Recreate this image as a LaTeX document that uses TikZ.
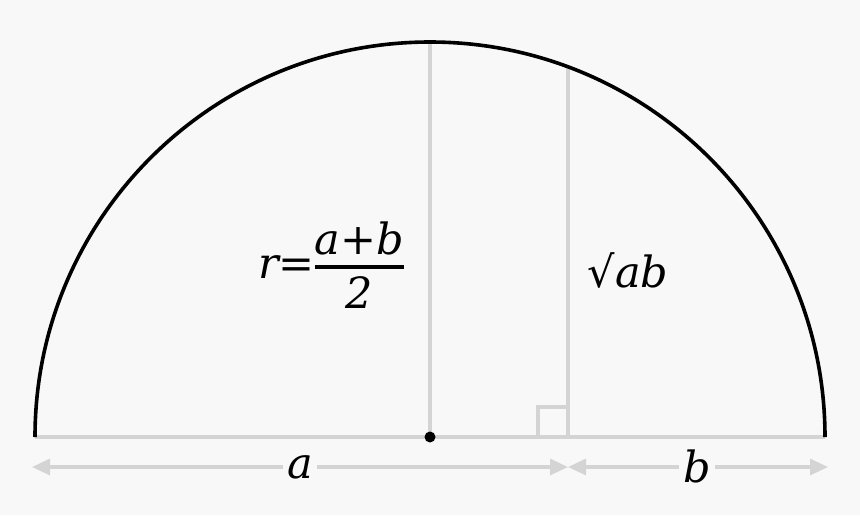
\documentclass[tikz,border=0pt]{standalone}
\usepackage{fontspec}
\setmainfont{DejaVu Serif}
\usetikzlibrary{arrows.meta}

\begin{document}
\begin{tikzpicture}[x=1pt,y=-1pt,
        arcLine/.style = {draw=black,line width=3.6pt},
        grayLine/.style = {draw=lineGray,line width=3.2pt},
        dimLine/.style = {draw=lineGray,line width=3.2pt,{Triangle[length=18pt,width=16pt]}-{Triangle[length=18pt,width=16pt]}},
        labelNode/.style = {font=\fontsize{43}{48}\selectfont\itshape,inner sep=6pt},
        dimLabel/.style = {labelNode,fill=bgGray,inner sep=4pt}
        ]
        \definecolor{bgGray}{HTML}{F8F8F8}
        \definecolor{lineGray}{HTML}{D4D4D4}
        \fill[bgGray] (0,0) rectangle (860,515);
        \useasboundingbox (0,0) rectangle (860,515);
        % points on the diameter
        \coordinate (left) at (35,437);
        \coordinate (right) at (825,437);
        \coordinate (centre) at (430,437);
        \coordinate (foot) at (568,437);
        \coordinate (top) at (430,42);
        \coordinate (meet) at (568,66.9);
        % right angle corner
        \coordinate (sqA) at (538,437);
        \coordinate (sqB) at (538,407);
        \coordinate (sqC) at (568,407);
        % ends of the dimension lines
        \coordinate (dimLeft) at (32,467);
        \coordinate (dimMid) at (568,467);
        \coordinate (dimRight) at (828,467);

        \draw[grayLine] (left) -- (right);
        \draw[grayLine] (centre) -- (top);
        \draw[grayLine] (foot) -- (meet);
        \draw[grayLine] (sqA) -- (sqB) -- (sqC);
        \draw[arcLine] (left) arc (180:360:395);
        \fill (centre) circle (5.5pt);

        \node[labelNode] (radius) at (331,272) {r=\begin{tabular}{@{}c@{}}a+b\\[-4pt]\noalign{\color{black}\hrule height 3.5pt}\rule{0pt}{40pt}2\end{tabular}};
        \node[labelNode] (mean) at (628,270) {√ab};

        \draw[dimLine] (dimLeft) -- (dimMid);
        \node[dimLabel] (labA) at (300,467) {a};
        \draw[dimLine] (dimMid) -- (dimRight);
        \node[dimLabel] (labB) at (697,466) {b};
\end{tikzpicture}
\end{document}
